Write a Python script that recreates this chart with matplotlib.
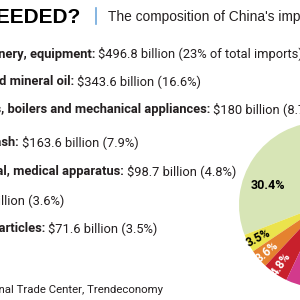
import matplotlib
matplotlib.use("Agg")
import matplotlib.pyplot as plt
import numpy as np

# data
headline = "WHAT'S NEEDED?"
subtitle = "The composition of China's imports"
item_names = [
    "Electrical machinery, equipment:",
    "Mineral fuels and mineral oil:",
    "Machines, engines, boilers and mechanical appliances:",
    "Ores, slag and ash:",
    "Optical, technical, medical apparatus:",
    "Vehicles:",
    "Plastics, plastic articles:",
]
item_values = [
    "$496.8 billion (23% of total imports)",
    "$343.6 billion (16.6%)",
    "$180 billion (8.7%)",
    "$163.6 billion (7.9%)",
    "$98.7 billion (4.8%)",
    "$74.6 billion (3.6%)",
    "$71.6 billion (3.5%)",
]
source = "Source: International Trade Center, Trendeconomy"

pie_labels = ["30.4%", "3.5%", "3.6%", "4.8%", "7.9%", "8.7%", "16.6%", "23%"]
pie_shares = [30.4, 3.5, 3.6, 4.8, 7.9, 8.7, 16.6, 23.0]
pie_colors = ["#d7e5b6", "#ebe34c", "#e5822f", "#c8202c", "#d23a8c",
              "#8a4f9e", "#3f7fc0", "#2f9c9a"]

W = 300.0
fig = plt.figure(figsize=(3, 3), dpi=100)
fig.patch.set_facecolor("white")


def fx(x):
    return x / W


def fy(y):
    return 1 - y / W


body_font = ["Roboto", "DejaVu Sans"]
ink = "#231f20"
body_size = 9.3

# title row
fig.text(fx(80), fy(22.7), headline, ha="right", va="baseline",
         fontsize=15, fontweight="bold", family="Liberation Sans", color="black")
fig.add_artist(plt.Line2D([fx(96), fx(96)], [fy(8), fy(24)], color="#6fa8dc", lw=1.2))
fig.text(fx(108), fy(21), subtitle, ha="left", va="baseline",
         fontsize=9.9, family="Liberation Sans", color=ink)

# list rows: x where value text starts, baseline y
value_x = [98, 77, 213, 22, 127, -45, 48]
row_y = [57.7, 85, 113, 146, 175, 204, 232]
for name, val, x0, y0 in zip(item_names, item_values, value_x, row_y):
    fig.text(fx(x0 - 3), fy(y0), name, ha="right", va="baseline",
             fontsize=body_size, fontweight="bold", family=body_font, color=ink)
    fig.text(fx(x0), fy(y0), val, ha="left", va="baseline",
             fontsize=body_size, family=body_font, color=ink)

fig.text(fx(163), fy(293), source, ha="right", va="baseline",
         fontsize=8.2, family=body_font, color=ink)

# pie, centred partly off the canvas
cx, cy, r = 322, 205, 83
ax = fig.add_axes([fx(cx - r), fy(cy + r), 2 * r / W, 2 * r / W])
wedges, _ = ax.pie(pie_shares, colors=pie_colors, startangle=90,
                   counterclock=True, wedgeprops=dict(linewidth=0))
ax.set_xlim(-1, 1)
ax.set_ylim(-1, 1)
ax.axis("off")

for i, (w, lab) in enumerate(zip(wedges, pie_labels)):
    if i == 0:
        ang = w.theta1 + 0.63 * (w.theta2 - w.theta1)
        rad, rot, size, col = 0.69, 0, 9, "black"
    else:
        ang = (w.theta1 + w.theta2) / 2
        rad, rot, size = 0.87, ang - 180, 8.5
        col = "black" if i == 1 else "white"
    t = np.deg2rad(ang)
    ax.text(rad * np.cos(t), rad * np.sin(t), lab, ha="center", va="center",
            rotation=rot, rotation_mode="anchor", fontsize=size,
            fontweight="bold", family=body_font, color=col)

fig.savefig("out.png", dpi=100)
